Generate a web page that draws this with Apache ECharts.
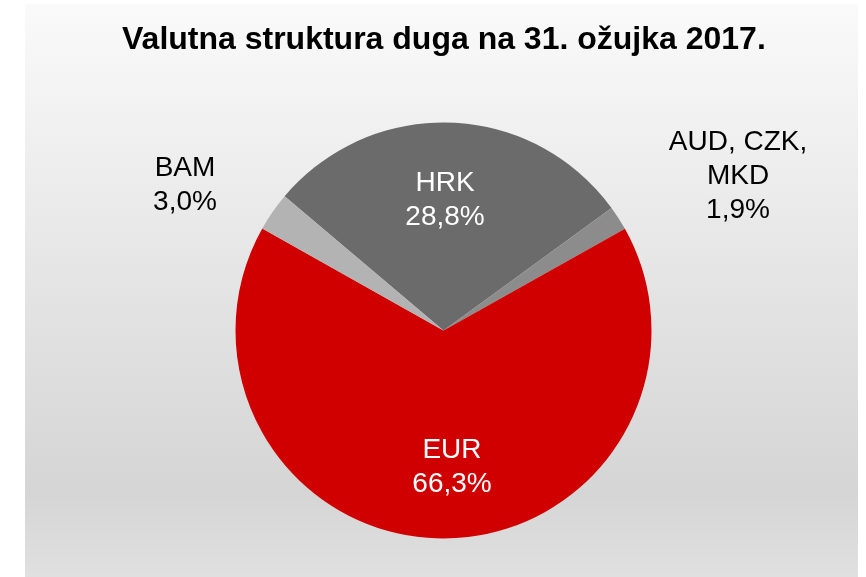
<!DOCTYPE html>
<html>
<head>
<meta charset="utf-8">
<script src="https://cdn.jsdelivr.net/npm/echarts@6/dist/echarts.min.js"></script>
<style>
html,body{margin:0;padding:0;background:#fff;}
#chart{width:866px;height:577px;}
</style>
</head>
<body>
<div id="chart"></div>
<script>
// Data
const titleText = 'Valutna struktura duga na 31. ožujka 2017.';
const categories = ['HRK', 'AUD, CZK, MKD', 'EUR', 'BAM'];
const values = [28.8, 1.9, 66.3, 3.0];
const colors = ['#6b6b6b', '#8c8c8c', '#d00000', '#b3b3b3'];

// Label anchor positions (layout, px)
const labelPos = [[445, 200], [738, 176], [452, 467], [185, 185]];
const labelColor = ['#ffffff', '#000000', '#ffffff', '#000000'];

const chart = echarts.init(document.getElementById('chart'), null, {renderer: 'canvas'});
const font = "'Liberation Sans', Arial, sans-serif";

const seriesData = categories.map((c, i) => ({
  name: c,
  value: values[i],
  itemStyle: {color: colors[i]},
  label: {color: labelColor[i]}
}));

chart.setOption({
  animation: false,
  backgroundColor: '#ffffff',
  graphic: [{
    type: 'rect',
    z: -10,
    silent: true,
    shape: {x: 25, y: 4, width: 833, height: 573},
    style: {
      fill: new echarts.graphic.LinearGradient(0, 0, 0, 1, [
        {offset: 0, color: '#fafafa'},
        {offset: 0.45, color: '#e6e6e6'},
        {offset: 0.85, color: '#d5d5d5'},
        {offset: 1, color: '#e0e0e0'}
      ])
    }
  }],
  title: {
    text: titleText,
    left: 117,
    top: 19,
    textStyle: {fontFamily: font, fontSize: 32, fontWeight: 'bold', color: '#000'}
  },
  series: [{
    type: 'pie',
    center: [443.5, 330.5],
    radius: [0, 208],
    startAngle: 139.8,
    clockwise: true,
    avoidLabelOverlap: false,
    emphasis: {disabled: true},
    itemStyle: {borderWidth: 0},
    label: {
      show: true,
      position: 'inside',
      fontFamily: font,
      fontSize: 28,
      lineHeight: 34,
      align: 'center',
      formatter: p => p.name.replace(', MKD', ',\nMKD') + '\n' + p.value.toFixed(1).replace('.', ',') + '%'
    },
    labelLine: {show: false},
    labelLayout: p => ({
      x: labelPos[p.dataIndex][0],
      y: labelPos[p.dataIndex][1],
      align: 'center',
      verticalAlign: 'middle'
    }),
    data: seriesData
  }]
});
</script>
</body>
</html>
